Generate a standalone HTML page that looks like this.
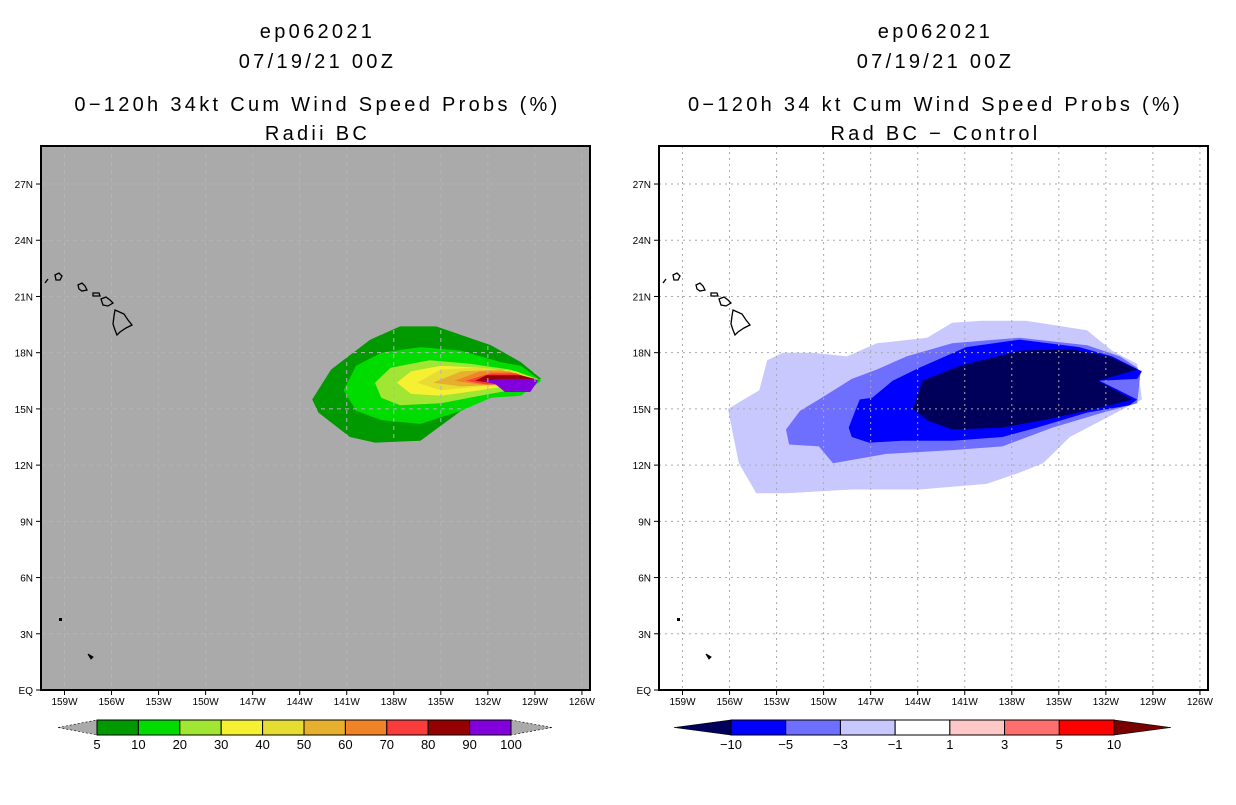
<!DOCTYPE html>
<html><head><meta charset="utf-8"><style>
body{margin:0;background:#fff;width:1236px;height:800px;overflow:hidden}
svg text{font-family:"Liberation Sans",sans-serif}
</style></head><body>
<svg id="c" width="1236" height="800" xmlns="http://www.w3.org/2000/svg"></svg>
<script>
// tick labels
const lonTicks=[159,156,153,150,147,144,141,138,135,132,129,126];
const latTicks=[0,3,6,9,12,15,18,21,24,27];
// left-panel probability contours (lon W, lat N)
const leftLevels=['5','10','20','30','40','50','60','70','80','90'];
const leftColors=['#009900','#00dc00','#a0e632','#f5f032','#e6dc32','#e6af2d','#f08228','#fa3c3c','#960000','#8200dc'];
const leftPolys=[
[[143.2,15.5],[142.0,17.1],[139.5,18.7],[137.6,19.4],[135.3,19.4],[131.8,18.4],[129.9,17.5],[128.6,16.6],[130.9,16.0],[133.7,14.9],[136.3,13.3],[139.2,13.2],[140.8,13.5],[142.8,14.8]],
[[141.2,16.0],[140.4,17.3],[138.8,18.0],[136.3,18.3],[133.7,18.1],[131.2,17.5],[129.9,17.3],[128.6,16.5],[129.9,15.7],[131.8,15.6],[133.7,14.9],[136.3,14.2],[138.8,14.4],[140.4,14.9]],
[[139.2,16.4],[138.2,17.2],[135.7,17.6],[133.1,17.4],[130.6,17.1],[128.8,16.6],[129.9,16.1],[132.5,15.7],[135.0,15.3],[137.6,15.2],[138.8,15.6]],
[[137.8,16.4],[136.9,17.0],[135.0,17.3],[132.5,17.2],[130.2,17.0],[129.0,16.6],[130.2,16.3],[132.5,16.0],[135.0,15.7],[136.9,15.8]],
[[136.5,16.4],[135.0,17.1],[132.5,17.2],[129.9,16.9],[129.1,16.6],[130.2,16.3],[132.5,16.2],[135.0,16.0]],
[[135.5,16.4],[133.7,17.0],[131.2,17.1],[129.3,16.6],[131.2,16.3],[133.7,16.2]],
[[134.1,16.5],[132.5,17.0],[130.6,17.0],[129.3,16.6],[130.9,16.3],[132.5,16.3]],
[[133.4,16.5],[131.8,16.9],[130.2,16.9],[129.3,16.6],[130.9,16.3],[132.1,16.3]],
[[132.8,16.5],[132.1,16.8],[129.9,16.8],[129.0,16.6],[130.6,16.4],[131.8,16.4]],
[[132.3,16.5],[131.2,16.6],[129.0,16.6],[128.8,16.5],[129.3,15.9],[130.9,15.9],[131.5,16.3]]
];
// right-panel difference contours
const rightColors=['#c8c8ff','#6e6eff','#0000ff','#00005a'];
const rightPolys=[
[[156.1,15.0],[154.1,16.0],[153.6,17.6],[152.6,18.0],[150.7,18.0],[148.5,17.8],[146.6,18.5],[143.4,18.8],[141.8,19.6],[139.9,19.7],[137.1,19.7],[133.2,19.2],[131.6,18.1],[130.0,17.4],[129.7,15.5],[131.1,14.9],[134.3,13.5],[136.0,12.1],[137.5,11.6],[139.6,11.0],[143.9,10.7],[148.2,10.7],[152.4,10.5],[154.3,10.5],[155.4,12.1],[155.8,13.7]],
[[152.4,13.9],[151.5,14.9],[150.3,15.5],[148.2,16.6],[146.6,17.1],[144.7,17.8],[141.8,18.5],[137.5,18.8],[133.2,18.4],[131.1,17.8],[130.0,17.2],[129.8,16.9],[130.0,15.3],[132.2,14.8],[135.4,14.0],[138.6,13.0],[141.8,12.8],[146.0,12.6],[149.4,12.1],[150.3,13.0],[152.2,13.1]],
[[148.4,14.0],[147.7,15.5],[146.9,15.6],[145.6,16.5],[143.9,17.2],[140.9,18.3],[137.5,18.7],[133.7,18.3],[131.6,17.8],[129.7,17.0],[130.0,16.6],[132.4,16.5],[130.0,15.5],[130.5,15.2],[133.2,14.8],[136.4,14.0],[138.6,13.5],[141.8,13.3],[145.0,13.3],[147.1,13.2],[148.2,13.5]],
[[144.3,15.0],[143.7,16.5],[141.3,17.3],[137.5,18.1],[134.3,18.2],[131.8,17.8],[130.0,17.1],[132.5,16.5],[130.3,15.5],[132.2,15.1],[135.4,14.5],[138.6,14.0],[141.8,13.9],[143.4,14.4]]
];
const leftCbLabels=['5','10','20','30','40','50','60','70','80','90','100'];
const rightCbColors=['#0000ff','#6e6eff','#c8c8ff','#ffffff','#ffc8c8','#ff6e6e','#ff0000'];
const rightCbLabels=['\u221210','\u22125','\u22123','\u22121','1','3','5','10'];

const NS='http://www.w3.org/2000/svg';
const svg=document.getElementById('c');
function mk(tag,attrs,parent){const e=document.createElementNS(NS,tag);for(const k in attrs)e.setAttribute(k,attrs[k]);(parent||svg).appendChild(e);return e;}
const PY0=146,PY1=690,PW=549;
function xs(x0,w){return x0+23.5+(159-w)*15.68;}
function ys(lat){return 690-lat*18.74;}
function ptsStr(x0,p){return p.map(q=>xs(x0,q[0]).toFixed(1)+','+ys(q[1]).toFixed(1)).join(' ');}
function txt(x,y,s,size,anchor,parent){const t=mk('text',{x:x,y:y,'font-size':size,'text-anchor':anchor||'middle',fill:'#000'},parent);t.textContent=s;return t;}

function panel(x0,bg,titles,name){
  const g=mk('g',{});
  
  
  const cx=x0+PW/2;
  titles.forEach((s,i)=>{const t=txt(cx+2,[38,68,111,140][i],s,20,'middle',g);
    
    t.setAttribute('letter-spacing','3.3');});
  const r=mk('rect',{x:x0,y:PY0,width:PW,height:PY1-PY0,fill:bg},g);
  
  
  return g;
}
function grid(g,x0,color,dash){
  lonTicks.forEach(w=>{const x=xs(x0,w);if(x<x0+PW)mk('line',{x1:x,y1:PY0,x2:x,y2:PY1,stroke:color,'stroke-dasharray':dash},g);});
  latTicks.forEach(l=>{if(l>0)mk('line',{x1:x0,y1:ys(l),x2:x0+PW,y2:ys(l),stroke:color,'stroke-dasharray':dash},g);});
}
function axes(g,x0){
  mk('rect',{x:x0,y:PY0,width:PW,height:PY1-PY0,fill:'none',stroke:'#000','stroke-width':2},g);
  lonTicks.forEach(w=>{const x=xs(x0,w);mk('line',{x1:x,y1:PY1,x2:x,y2:PY1+5,stroke:'#000'},g);
    const t=txt(x,PY1+15,w+'W',10,'middle',g);});
  latTicks.forEach(l=>{const y=ys(l);mk('line',{x1:x0-5,y1:y,x2:x0,y2:y,stroke:'#000'},g);
    const t=txt(x0-8,y+4,l===0?'EQ':l+'N',10,'end',g);});
}
function islands(g,dx){
  const s='fill:none;stroke:#000;stroke-width:1.3';
  const ps=['M115,310 L124,314 L128,320 L132,325 L126,328 L120,332 L117,335 L115,330 L113,324 L114,316 Z',
   'M101,299 L106,297 L110,300 L113,303 L108,306 L103,305 Z','M93,293 L99,293 L100,296 L93,296 Z',
   'M78,285 L82,283 L85,286 L87,290 L82,291 L79,289 Z','M55,275 L59,273 L62,276 L60,280 L56,280 Z','M45,283 L48,279'];
  ps.forEach(d=>{const p=mk('path',{d:d,style:s,transform:'translate('+dx+',0)'},g);});
  mk('rect',{x:59+dx,y:618,width:3,height:3,fill:'#000'},g);
  mk('path',{d:'M88,654 L93,657 L91,659 Z',fill:'#000',stroke:'#000',transform:'translate('+dx+',0)'},g);
}

// LEFT
const L=panel(41,'#aaaaaa',['ep062021','07/19/21 00Z','0\u2212120h 34kt Cum Wind Speed Probs (%)','Radii BC'],'left-panel');
leftPolys.forEach((p,i)=>{const e=mk('polygon',{points:ptsStr(41,p),fill:leftColors[i]},L);
  
  });
grid(L,41,'#b4b4b4','4,4');
islands(L,0);axes(L,41);

// RIGHT
const R=panel(659,'#ffffff',['ep062021','07/19/21 00Z','0\u2212120h 34 kt Cum Wind Speed Probs (%)','Rad BC \u2212 Control'],'right-panel');
rightPolys.forEach((p,i)=>{const e=mk('polygon',{points:ptsStr(659,p),fill:rightColors[i]},R);
  
  });
grid(R,659,'#aaaaaa','2,4');
islands(R,618);axes(R,659);

// colorbars
function colorbar(x0,x1,tip0,tip1,colors,labels,lc,rc,name){
  const g=mk('g',{});
  
  
  const y0=720,y1=735,ym=727.5,n=colors.length,w=(x1-x0)/n;
  mk('polygon',{points:tip0+','+ym+' '+x0+','+y0+' '+x0+','+y1,fill:lc,stroke:'#000','stroke-width':0.6,'stroke-dasharray':lc==='#aaaaaa'?'2,2':''},g);
  mk('polygon',{points:tip1+','+ym+' '+x1+','+y0+' '+x1+','+y1,fill:rc,stroke:'#000','stroke-width':0.6,'stroke-dasharray':rc==='#aaaaaa'?'2,2':''},g);
  colors.forEach((c,i)=>{const r=mk('rect',{x:x0+i*w,y:y0,width:w,height:y1-y0,fill:c,stroke:'#000','stroke-width':1},g);
    });
  labels.forEach((s,i)=>{const t=txt(x0+i*w,y1+14,s,13,'middle',g);});
}
colorbar(97,511,58,552,leftColors,leftCbLabels,'#aaaaaa','#aaaaaa','left-colorbar');
colorbar(731,1114,674,1171,rightCbColors,rightCbLabels,'#00005a','#780000','right-colorbar');
</script>
</body></html>
